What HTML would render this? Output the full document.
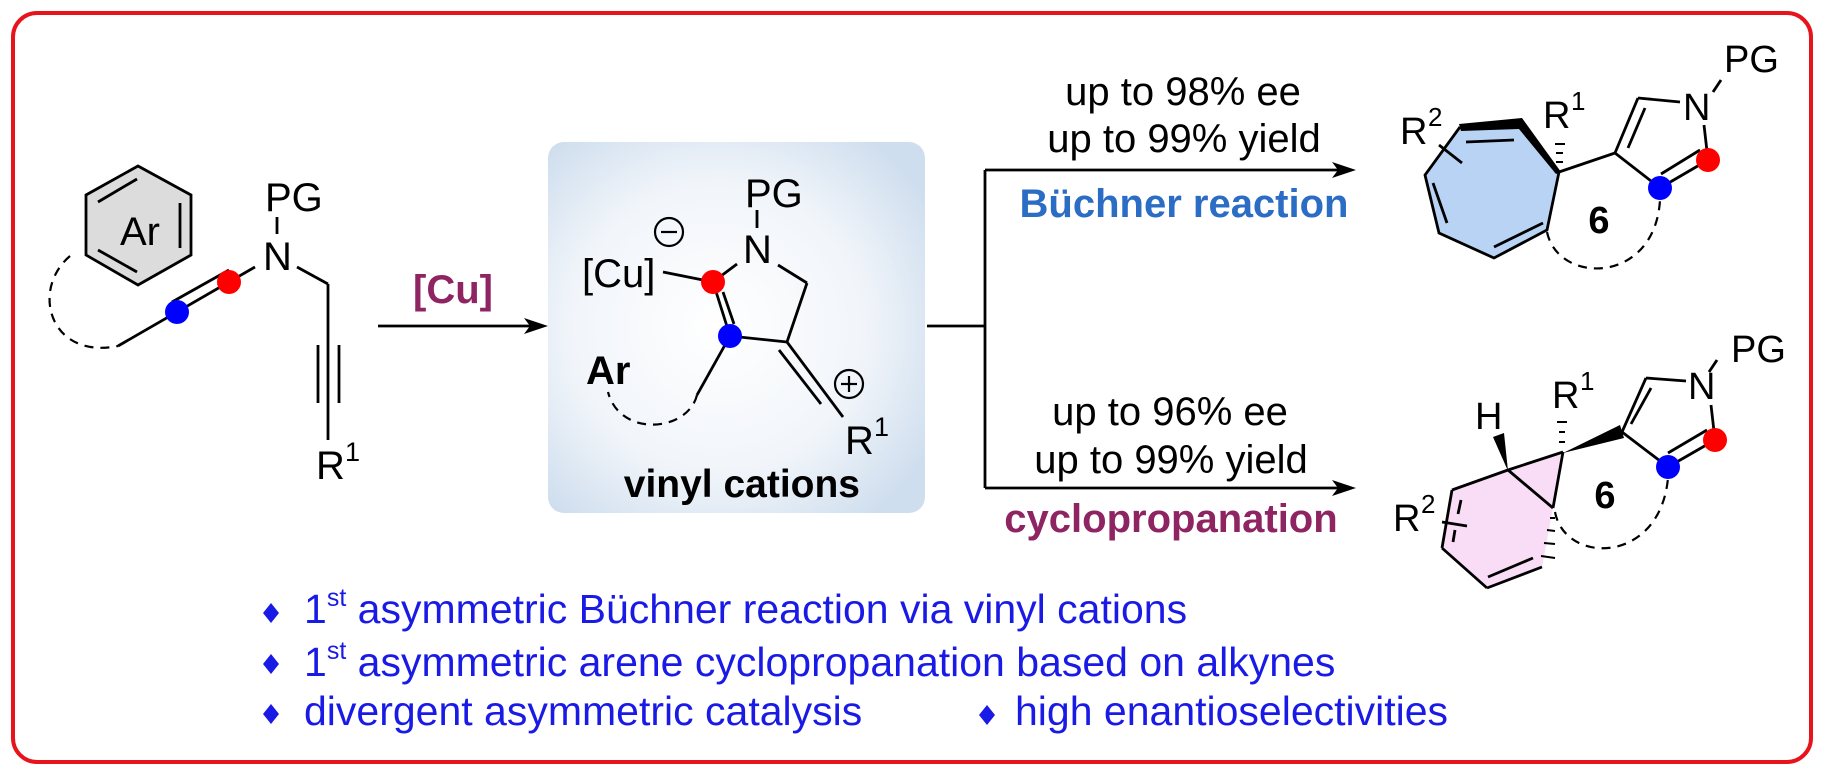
<!DOCTYPE html>
<html><head><meta charset="utf-8"><style>
html,body{margin:0;padding:0;background:#fff;}
svg{display:block;}
text{font-family:"Liberation Sans",Arial,sans-serif;}
</style></head><body>
<svg width="1824" height="775" viewBox="0 0 1824 775" xmlns="http://www.w3.org/2000/svg">
<defs>
<radialGradient id="bx" cx="0.45" cy="0.5" r="0.65">
<stop offset="0" stop-color="#ffffff"/><stop offset="0.6" stop-color="#f1f5fa"/><stop offset="1" stop-color="#cfdeee"/>
</radialGradient>
</defs>
<rect x="0" y="0" width="1824" height="775" fill="#fff"/>
<rect x="13" y="13" width="1798" height="749" rx="24" fill="none" stroke="#e8141b" stroke-width="4"/>

<!-- center box -->
<rect x="548" y="142" width="377" height="371" rx="16" fill="url(#bx)"/>

<g stroke="#000" stroke-width="2.8" fill="none" stroke-linecap="butt">
<!-- left molecule -->
<polygon points="138,166 191,195 191,255 138,285 86,255 86,195" fill="#dcdcdc"/>
<line x1="98" y1="202" x2="137" y2="179"/>
<line x1="180" y1="203" x2="180" y2="248"/>
<line x1="98" y1="250" x2="137" y2="272"/>
<path d="M70,256 C30,290 50,360 118,346" stroke-width="2.2" stroke-dasharray="9 7"/>
<line x1="118" y1="346" x2="255" y2="267"/>
<line x1="172" y1="302" x2="229" y2="270"/>
<line x1="277" y1="217" x2="277" y2="234"/>
<line x1="297" y1="267" x2="328" y2="284"/>
<line x1="328" y1="284" x2="328" y2="440"/>
<line x1="318" y1="345" x2="318" y2="403"/>
<line x1="339" y1="345" x2="339" y2="403"/>
<!-- arrow 1 -->
<line x1="378" y1="326" x2="530" y2="326"/>
<!-- center molecule -->
<line x1="757" y1="210" x2="757" y2="228"/>
<line x1="663" y1="272" x2="713" y2="282"/>
<line x1="713" y1="282" x2="737" y2="264"/>
<line x1="778" y1="265" x2="807" y2="283"/>
<line x1="807" y1="283" x2="787" y2="342"/>
<line x1="713" y1="282" x2="730" y2="336"/>
<line x1="723" y1="292" x2="734" y2="324"/>
<line x1="730" y1="336" x2="787" y2="342"/>
<line x1="787" y1="342" x2="843" y2="417"/>
<line x1="779" y1="350" x2="821" y2="404"/>
<line x1="730" y1="336" x2="697" y2="395"/>
<path d="M697,395 C688,432 620,438 608,392" stroke-width="2.2" stroke-dasharray="9 7"/>
<circle cx="669" cy="232" r="14" stroke-width="2.2"/>
<line x1="661" y1="232" x2="677" y2="232" stroke-width="2.2"/>
<circle cx="849" cy="384" r="14" stroke-width="2.2"/>
<line x1="841" y1="384" x2="857" y2="384" stroke-width="2.2"/>
<line x1="849" y1="376" x2="849" y2="392" stroke-width="2.2"/>
<!-- branch -->
<line x1="927" y1="326" x2="985" y2="326"/>
<line x1="985" y1="170" x2="985" y2="488"/>
<line x1="985" y1="170" x2="1338" y2="170"/>
<line x1="985" y1="488" x2="1338" y2="488"/>
</g>
<g fill="#000">
<polygon points="548,326 524,318 530,326 524,334"/>
<polygon points="1356,170 1332,162 1338,170 1332,178"/>
<polygon points="1356,488 1332,480 1338,488 1332,496"/>
</g>
<circle cx="177" cy="312" r="12" fill="#0000ff"/>
<circle cx="229" cy="282" r="12" fill="#ff0000"/>
<circle cx="713" cy="282" r="12" fill="#ff0000"/>
<circle cx="730" cy="336" r="12" fill="#0000ff"/>

<!-- texts left & center -->
<g font-size="40" fill="#000">
<text x="120" y="245">Ar</text>
<text x="265" y="211">PG</text>
<text x="263" y="270">N</text>
<text x="316" y="479">R</text><text x="345" y="461" font-size="27">1</text>
<text x="582" y="287">[Cu]</text>
<text x="745" y="207">PG</text>
<text x="743" y="263">N</text>
<text x="845" y="454">R</text><text x="874" y="436" font-size="27">1</text>
<text x="586" y="384" font-weight="bold">Ar</text>
</g>
<text x="413" y="303" font-size="40" font-weight="bold" fill="#8e2461">[Cu]</text>
<text x="860" y="497" font-size="39" font-weight="bold" text-anchor="end" fill="#000">vinyl cations</text>

<!-- conditions -->
<g font-size="40" fill="#000" text-anchor="middle">
<text x="1183" y="105">up to 98% ee</text>
<text x="1184" y="152">up to 99% yield</text>
<text x="1170" y="425">up to 96% ee</text>
<text x="1171" y="473">up to 99% yield</text>
</g>
<text x="1184" y="217" font-size="40" font-weight="bold" text-anchor="middle" fill="#2b6cc4">Büchner reaction</text>
<text x="1171" y="532" font-size="40" font-weight="bold" text-anchor="middle" fill="#8e2461">cyclopropanation</text>

<!-- top product -->
<polygon points="1460,127 1522,123 1559,172 1547,230 1494,258 1439,233 1425,175" fill="#b8d3f3"/>
<g stroke="#000" stroke-width="2.8" fill="none">
<polyline points="1559,172 1547,230 1494,258 1439,233 1425,175 1460,127"/>
<line x1="1466" y1="142" x2="1514" y2="140"/>
<line x1="1433" y1="183" x2="1447" y2="223"/>
<line x1="1494" y1="247" x2="1543" y2="223"/>
<line x1="1439" y1="145" x2="1462" y2="163"/>
<line x1="1559" y1="172" x2="1615" y2="153"/>
<line x1="1615" y1="153" x2="1638" y2="98"/>
<line x1="1628" y1="148" x2="1645" y2="108"/>
<line x1="1638" y1="98" x2="1680" y2="102"/>
<line x1="1704" y1="125" x2="1708" y2="160"/>
<line x1="1708" y1="160" x2="1660" y2="188"/>
<line x1="1700" y1="150" x2="1661" y2="174" />
<line x1="1660" y1="188" x2="1615" y2="153"/>
<line x1="1713" y1="92" x2="1721" y2="80"/>
<path d="M1547,232 C1558,285 1655,285 1660,200" stroke-width="2.2" stroke-dasharray="9 7"/>
<g stroke-width="2">
<line x1="1556" y1="162" x2="1563" y2="162"/>
<line x1="1556" y1="153" x2="1563" y2="153"/>
<line x1="1555" y1="144" x2="1565" y2="144"/>
</g>
</g>
<polygon points="1459,124 1522,118 1561,172 1556,174 1519,129 1461,131" fill="#000"/>
<circle cx="1708" cy="160" r="12" fill="#ff0000"/>
<circle cx="1660" cy="188" r="12" fill="#0000ff"/>
<g font-size="38" fill="#000">
<text x="1400" y="144">R</text><text x="1428" y="126" font-size="26">2</text>
<text x="1543" y="128">R</text><text x="1571" y="110" font-size="26">1</text>
<text x="1683" y="120">N</text>
<text x="1724" y="72">PG</text>
<text x="1599" y="233" font-weight="bold" text-anchor="middle">6</text>
</g>

<!-- bottom product -->
<polygon points="1508,470 1563,452 1553,508 1542,567 1487,588 1442,548 1452,490" fill="#f9ddf7"/>
<g stroke="#000" stroke-width="2.8" fill="none">
<line x1="1508" y1="470" x2="1563" y2="452"/>
<line x1="1563" y1="452" x2="1553" y2="508"/>
<line x1="1553" y1="508" x2="1508" y2="470"/>
<line x1="1508" y1="470" x2="1452" y2="490"/>
<line x1="1452" y1="490" x2="1442" y2="548"/>
<line x1="1442" y1="548" x2="1487" y2="588"/>
<line x1="1487" y1="588" x2="1542" y2="567"/>
<line x1="1488" y1="577" x2="1533" y2="558"/>
<line x1="1461" y1="500" x2="1458" y2="514"/>
<line x1="1455" y1="530" x2="1453" y2="542"/>
<line x1="1442" y1="522" x2="1467" y2="526"/>
<line x1="1622" y1="432" x2="1646" y2="378"/>
<line x1="1631" y1="424" x2="1651" y2="388"/>
<line x1="1646" y1="378" x2="1686" y2="381"/>
<line x1="1711" y1="405" x2="1715" y2="440"/>
<line x1="1715" y1="440" x2="1668" y2="467"/>
<line x1="1707" y1="430" x2="1668" y2="453"/>
<line x1="1668" y1="467" x2="1622" y2="432"/>
<line x1="1709" y1="372" x2="1717" y2="360"/>
<path d="M1555,512 C1565,565 1660,565 1668,478" stroke-width="2.2" stroke-dasharray="9 7"/>
<g stroke-width="2">
<line x1="1559" y1="442" x2="1565" y2="442"/>
<line x1="1559" y1="432" x2="1565" y2="432"/>
<line x1="1557" y1="422" x2="1567" y2="422"/>
<line x1="1550" y1="518" x2="1555" y2="518"/>
<line x1="1547" y1="530" x2="1555" y2="531"/>
<line x1="1544" y1="543" x2="1555" y2="544"/>
<line x1="1541" y1="556" x2="1555" y2="558"/>
</g>
</g>
<polygon points="1508,471 1493,437 1504,433" fill="#000"/>
<polygon points="1563,453 1620,425 1624,438" fill="#000"/>
<circle cx="1715" cy="440" r="12" fill="#ff0000"/>
<circle cx="1668" cy="467" r="12" fill="#0000ff"/>
<g font-size="38" fill="#000">
<text x="1475" y="429">H</text>
<text x="1552" y="408">R</text><text x="1580" y="390" font-size="26">1</text>
<text x="1393" y="531">R</text><text x="1421" y="513" font-size="26">2</text>
<text x="1688" y="399">N</text>
<text x="1731" y="362">PG</text>
<text x="1605" y="508" font-weight="bold" text-anchor="middle">6</text>
</g>

<!-- bullets -->
<g fill="#1a1ae6">
<polygon points="271,603 279,613 271,623 263,613"/>
<polygon points="271,654 279,664 271,674 263,664"/>
<polygon points="271,704 279,714 271,724 263,714"/>
<polygon points="987,705 995,715 987,725 979,715"/>
</g>
<g font-size="41" fill="#1a1ae6">
<text x="304" y="623">1<tspan font-size="25" dy="-17">st</tspan><tspan dy="17"> asymmetric Büchner reaction via vinyl cations</tspan></text>
<text x="304" y="676">1<tspan font-size="25" dy="-17">st</tspan><tspan dy="17"> asymmetric arene cyclopropanation based on alkynes</tspan></text>
<text x="304" y="725">divergent asymmetric catalysis</text>
<text x="1015" y="725">high enantioselectivities</text>
</g>
</svg>
</body></html>
